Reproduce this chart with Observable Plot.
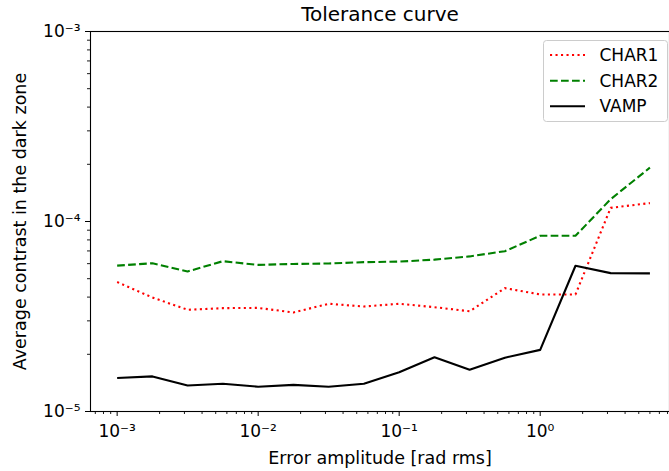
<!DOCTYPE html>
<html>
<head>
<meta charset="utf-8">
<script src="https://cdn.jsdelivr.net/npm/d3@7"></script>
<script src="https://cdn.jsdelivr.net/npm/@observablehq/plot@0.6"></script>
<style>
  html, body { margin: 0; padding: 0; background: #fff; }
  #chart { position: relative; width: 669px; height: 471px; overflow: hidden; }
</style>
</head>
<body>
<div id="chart"></div>
<script>
// Error amplitude [rad rms]
const errorAmplitude = [1e-3, 1.78e-3, 3.16e-3, 5.62e-3, 1e-2, 1.78e-2, 3.16e-2, 5.62e-2,
                        1e-1, 1.78e-1, 3.16e-1, 5.62e-1, 1, 1.78, 3.16, 6.0];
const char1 = [4.80e-5, 3.98e-5, 3.43e-5, 3.50e-5, 3.51e-5, 3.32e-5, 3.69e-5, 3.57e-5,
               3.69e-5, 3.54e-5, 3.37e-5, 4.46e-5, 4.13e-5, 4.13e-5, 1.18e-4, 1.25e-4];
const char2 = [5.86e-5, 6.03e-5, 5.46e-5, 6.18e-5, 5.91e-5, 5.98e-5, 6.01e-5, 6.11e-5,
               6.15e-5, 6.30e-5, 6.55e-5, 6.98e-5, 8.41e-5, 8.41e-5, 1.31e-4, 1.92e-4];
const vamp  = [1.50e-5, 1.53e-5, 1.37e-5, 1.40e-5, 1.35e-5, 1.38e-5, 1.35e-5, 1.40e-5,
               1.61e-5, 1.93e-5, 1.66e-5, 1.92e-5, 2.11e-5, 5.85e-5, 5.35e-5, 5.33e-5];

const seriesNames = ["CHAR1", "CHAR2", "VAMP"];
const seriesColors = ["red", "green", "black"];
const seriesDash = ["2.1,3.4", "7.7,3.3", null];

const xMajorTicks = [1e-3, 1e-2, 1e-1, 1];
const xMajorLabels = ["10⁻³", "10⁻²", "10⁻¹", "10⁰"];
const yMajorTicks = [1e-5, 1e-4, 1e-3];
const yMajorLabels = ["10⁻⁵", "10⁻⁴", "10⁻³"];
const minorMultipliers = [2, 3, 4, 5, 6, 7, 8, 9];
const xMinorDecades = [1e-4, 1e-3, 1e-2, 1e-1, 1];
const yMinorDecades = [1e-5, 1e-4];

const title = "Tolerance curve";
const xLabel = "Error amplitude [rad rms]";
const yLabel = "Average contrast in the dark zone";

const xDomain = [Math.pow(10, -3.189), Math.pow(10, 0.917)];
const yDomain = [1e-5, 1e-3];

const xMinor = xMinorDecades.flatMap(d => minorMultipliers.map(m => d * m))
  .filter(v => v > xDomain[0] && v < xDomain[1]);
const yMinor = yMinorDecades.flatMap(d => minorMultipliers.map(m => d * m));

const seriesValues = [char1, char2, vamp];
const rows = seriesNames.flatMap((s, i) =>
  errorAmplitude.map((x, j) => ({series: s, x, y: seriesValues[i][j]})));

const fmtX = d => xMajorLabels[xMajorTicks.indexOf(d)] ?? "";
const fmtY = d => yMajorLabels[yMajorTicks.indexOf(d)] ?? "";

const font = "DejaVu Sans, sans-serif";

const plot = Plot.plot({
  width: 669,
  height: 471,
  marginLeft: 90,
  marginRight: 0,
  marginTop: 31,
  marginBottom: 60,
  style: {fontFamily: font, fontSize: "17px", color: "black", background: "white"},
  x: {type: "log", domain: xDomain},
  y: {type: "log", domain: yDomain},
  marks: [
    Plot.axisX({ticks: xMinor, tickSize: 3, tickFormat: () => "", label: null, strokeWidth: 0.9}),
    Plot.axisX({ticks: xMajorTicks, tickSize: 5, tickPadding: 8, tickFormat: fmtX, label: null, fontSize: 17, strokeWidth: 1}),
    Plot.axisY({ticks: yMinor, tickSize: 3, tickFormat: () => "", label: null, strokeWidth: 0.9}),
    Plot.axisY({ticks: yMajorTicks, tickSize: 5, tickPadding: 5, tickFormat: fmtY, label: null, fontSize: 17, strokeWidth: 1}),
    ...seriesNames.map((s, i) => Plot.line(rows.filter(r => r.series === s), {
      x: "x", y: "y", stroke: seriesColors[i], strokeWidth: 2.1,
      strokeDasharray: seriesDash[i], strokeLinecap: "butt", strokeLinejoin: "round"
    })),
    Plot.frame({stroke: "black", strokeWidth: 1.1}),
    Plot.text([title], {frameAnchor: "top", lineAnchor: "bottom", textAnchor: "middle", dy: -10.5, fontSize: 20, fill: "black"}),
    Plot.text([xLabel], {frameAnchor: "bottom", lineAnchor: "bottom", textAnchor: "middle", dy: 52, fontSize: 17.5, fill: "black"}),
    Plot.text([yLabel], {frameAnchor: "left", textAnchor: "middle", lineAnchor: "middle", dx: -70, rotate: -90, fontSize: 17.5, fill: "black"})
  ]
});

document.getElementById("chart").appendChild(plot);

// Legend (drawn into the plot's SVG)
const svg = d3.select(plot);
const lg = svg.append("g").attr("font-family", font).attr("font-size", 17).attr("text-anchor", "start");
lg.append("rect").attr("x", 543.5).attr("y", 40.5).attr("width", 124).attr("height", 81)
  .attr("rx", 3).attr("fill", "white").attr("fill-opacity", 0.8)
  .attr("stroke", "#cccccc").attr("stroke-width", 1);
const rowY = [55, 80.7, 106.3];
seriesNames.forEach((s, i) => {
  lg.append("line").attr("x1", 550).attr("x2", 585).attr("y1", rowY[i]).attr("y2", rowY[i])
    .attr("stroke", seriesColors[i]).attr("stroke-width", 2.1)
    .attr("stroke-dasharray", seriesDash[i]);
  lg.append("text").attr("x", 599.5).attr("y", rowY[i]).attr("dy", "0.36em")
    .attr("text-anchor", "start").attr("fill", "black").text(s);
});
</script>
</body>
</html>
